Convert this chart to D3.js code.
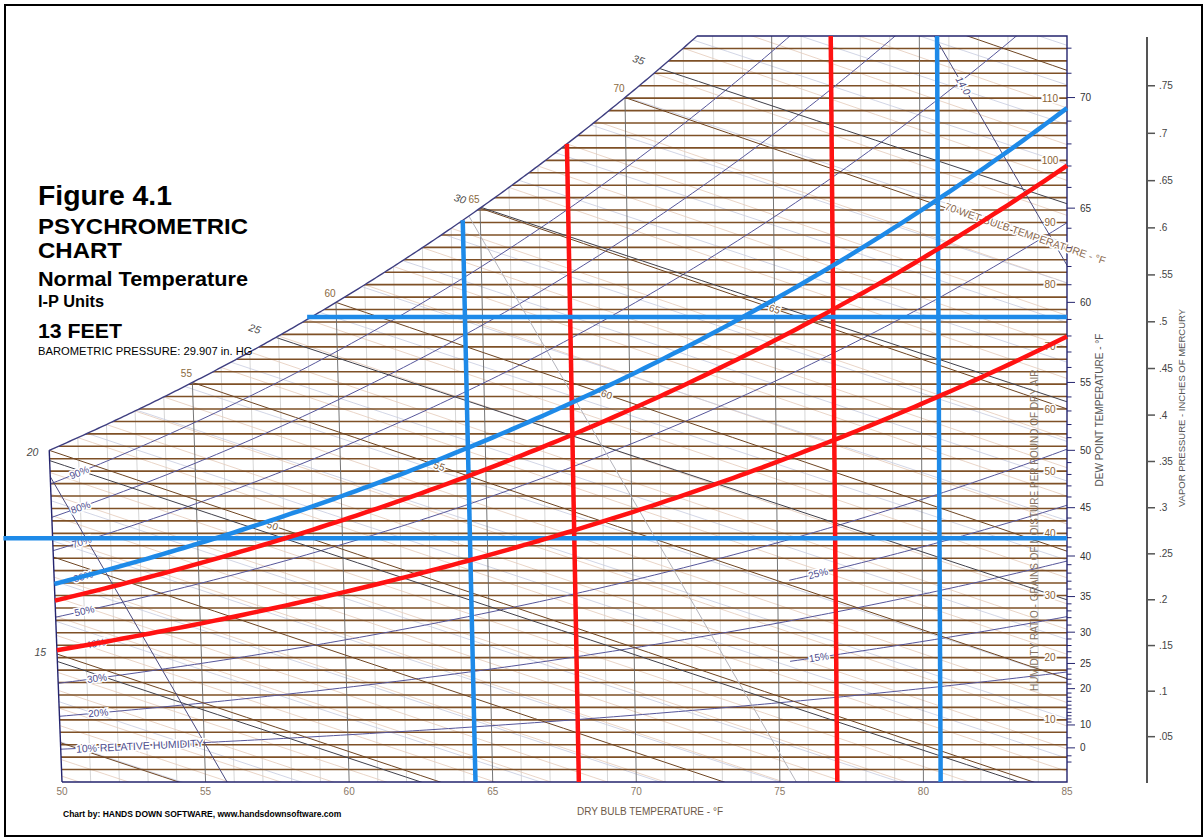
<!DOCTYPE html>
<html>
<head>
<meta charset="utf-8">
<script src="https://cdn.jsdelivr.net/npm/d3@7"></script>
<style>
  body { margin: 0; background: #fff; }
  svg { display: block; font-family: "Liberation Sans", Arial, Helvetica, sans-serif; }
</style>
</head>
<body>
<svg id="chart" width="1204" height="838"></svg>
<script>
// ---------------- chart values ----------------
const baroInHg = 29.907;                                   // barometric pressure, in. Hg (13 ft)
const dryBulbTicks = [50, 55, 60, 65, 70, 75, 80, 85];      // °F
const grainLabels = [10, 20, 30, 40, 50, 60, 70, 80, 90, 100, 110];
const dewPointLabels = [0, 10, 20, 25, 30, 35, 40, 45, 50, 55, 60, 65, 70];
const vaporPressureTicks = [0.05, 0.10, 0.15, 0.20, 0.25, 0.30, 0.35, 0.40, 0.45, 0.50, 0.55, 0.60, 0.65, 0.70, 0.75];
const vaporPressureLabels = [".05", ".1", ".15", ".2", ".25", ".3", ".35", ".4", ".45", ".5", ".55", ".6", ".65", ".7", ".75"];
const rhFull = [10, 20, 30, 40, 50, 60, 70, 80, 90];       // % relative humidity
const rhPartial = [15, 25];
const wetBulbMidLabels = [50, 55, 60, 65];
const wetBulbSatLabels = [55, 60, 65, 70];
const enthalpyLabels = [15, 20, 25, 30, 35];                // Btu/lb dry air
const specificVolumes = [13.0, 13.5, 14.0];                 // ft³/lb dry air
// comfort envelope overlay
const zoneRHRed = [40, 55];
const zoneRHBlue = [60];
const zoneDryBulbRed = [68, 77];
const zoneDryBulbBlue = [64.4, 80.6];
const zoneGrainsBlue = [74.8, 39.2];
const zoneGrainsBlueFrom = [59, 48.3];

// ---------------- psychrometric relations ----------------
const P = baroInHg;
const Ppsia = P * 0.491154;
function pws(tF) {                      // saturation vapour pressure, in. Hg
  const c = (tF - 32) / 1.8;
  const hPa = c >= 0 ? 6.112 * Math.exp(17.62 * c / (243.12 + c))
                     : 6.112 * Math.exp(22.46 * c / (272.62 + c));
  return hPa * 0.0295300;
}
const grainsFromPw = pw => 7000 * 0.62198 * pw / (P - pw);
const satGrains = t => grainsFromPw(pws(t));
const rhGrains = (t, rh) => grainsFromPw(rh / 100 * pws(t));
function wetBulbGrains(t, twb) {
  const ws = satGrains(twb) / 7000;
  return 7000 * ((1093 - 0.556 * twb) * ws - 0.240 * (t - twb)) / (1093 + 0.444 * t - twb);
}
const enthalpyGrains = (t, h) => 7000 * (h - 0.240 * t) / (1061 + 0.444 * t);
const volumeTemp = (v, g) => v * Ppsia / (0.370486 * (1 + 1.607858 * g / 7000)) - 459.67;
function bisect(f, a, b) {
  for (let i = 0; i < 60; i++) { const m = (a + b) / 2; if (f(a) * f(m) <= 0) b = m; else a = m; }
  return (a + b) / 2;
}

// ---------------- scales ----------------
const x = d3.scaleLinear().domain([50, 85]).range([62, 1067]);
const y = d3.scaleLinear().domain([0, 120]).range([782, 36]);
const skew = 0.0011;   // dry-bulb lines lean slightly toward the left
const proj = (t, g) => [x(t) - skew * (85 - t) * (y(0) - y(g)), y(g)];
const line = d3.line();
const span = (a, b, s) => { const r = d3.range(a, b, s); r.push(b); return r; };
const gMax = 120;
const tTop = bisect(t => satGrains(t) - gMax, 60, 85);

const svg = d3.select("#chart");
svg.append("rect").attr("x", 5).attr("y", 5).attr("width", 1197).attr("height", 831)
  .attr("fill", "#fff").attr("stroke", "#000").attr("stroke-width", 2);

// plot region bounded by the saturation curve
const satPts = span(50, tTop, 0.1).map(t => proj(t, satGrains(t)));
const clipPts = [proj(50, 0), proj(85, 0), proj(85, gMax)].concat(satPts.slice().reverse());
svg.append("defs").append("clipPath").attr("id", "plotClip")
  .append("path").attr("d", line(clipPts) + "Z");
const grid = svg.append("g").attr("clip-path", "url(#plotClip)").attr("fill", "none");

function drawSet(data, ptsFn, stroke, width) {
  grid.append("g").selectAll("path").data(data).join("path")
    .attr("d", d => line(ptsFn(d))).attr("stroke", stroke).attr("stroke-width", width);
}
const dbPts = t => [proj(t, 0), proj(t, gMax)];
const wbPts = twb => span(Math.max(49, twb), 86, 0.5).map(t => proj(t, wetBulbGrains(t, twb)));
const hPts = h => span(49, 86, 0.5).map(t => proj(t, enthalpyGrains(t, h)));
const rhPts = (rh, a = 49.5, b = 86) => span(a, b, 0.25).map(t => proj(t, rhGrains(t, rh)));
const vPts = v => span(0, gMax, 2).map(g => proj(volumeTemp(v, g), g));

// minor lines
drawSet(d3.range(51, 85).filter(t => t % 5), dbPts, "#cbcbcb", 0.8);
drawSet(d3.range(33, 76).filter(t => t % 5), wbPts, "#e4cab9", 0.8);
drawSet(d3.range(12, 40).filter(h => h % 5), hPts, "#c6cbdf", 0.8);
// humidity ratio lines every 2 grains
drawSet(d3.range(2, gMax, 2), g => [proj(45, g), proj(85, g)], "#7e5026", 1.6);
// major dry bulb lines
drawSet(dryBulbTicks.slice(1, -1), dbPts, "#666", 0.9);
// relative humidity
drawSet(rhFull, rh => rhPts(rh), "#56569a", 1);
drawSet(rhPartial, rh => rhPts(rh, 75.4, 86), "#56569a", 1);
// major wet bulb and enthalpy
drawSet(d3.range(35, 76, 5), wbPts, "#6e4522", 1);
drawSet(enthalpyLabels, hPts, "#40404a", 1);
// specific volume
drawSet([13.0, 14.0], vPts, "#4a4a7e", 1);
drawSet([13.5], vPts, "#b4b4bc", 1);

// frame: saturation curve, left edge, top, right and bottom edges
const frame = svg.append("g").attr("fill", "none").attr("stroke", "#24246e").attr("stroke-width", 1.4);
frame.append("path").attr("d", line(satPts)).attr("stroke", "#3e3e80");
frame.append("path").attr("d", line([proj(50, 0), proj(50, satGrains(50))]));
frame.append("path").attr("d", line([proj(tTop, gMax), proj(85, gMax), proj(85, 0), proj(50, 0)]));

// ---------------- labels on the chart ----------------
const labels = svg.append("g");
function halo(pos, txt, o = {}) {
  const t = labels.append("text")
    .attr("transform", `translate(${pos[0]},${pos[1]}) rotate(${o.angle || 0})`)
    .attr("text-anchor", o.anchor || "middle").attr("dominant-baseline", "central")
    .attr("font-size", o.size || 10).attr("fill", o.fill || "#000")
    .attr("font-style", o.italic ? "italic" : null)
    .text(txt);
  if (o.halo !== false) t.attr("stroke", "#fff").attr("stroke-width", 3).attr("paint-order", "stroke");
  return t;
}
const angleOf = (fn, t, dt = 0.3) => { const a = fn(t - dt), b = fn(t + dt); return Math.atan2(b[1] - a[1], b[0] - a[0]) * 180 / Math.PI; };

// relative humidity labels
rhFull.forEach(rh => {
  const tl = rh >= 50 ? 51.0 : rh >= 20 ? 51.35 : 52.75;
  const fn = t => proj(t, rhGrains(t, rh));
  halo(fn(tl), rh === 10 ? "10% RELATIVE HUMIDITY" : rh + "%",
       { angle: angleOf(fn, tl), size: rh === 10 ? 10.5 : 10, fill: "#4e4e8e" });
});
rhPartial.forEach(rh => {
  const fn = t => proj(t, rhGrains(t, rh));
  halo(fn(76.4), rh + "%", { angle: angleOf(fn, 76.4), size: 10, fill: "#4e4e8e" });
});

// humidity ratio (grains) labels along the right edge
grainLabels.forEach(g => halo([1050, y(g)], String(g), { size: 10, fill: "#8a6234" }));
labels.append("text")
  .attr("transform", `translate(1034,${y(40.5)}) rotate(-90)`)
  .attr("text-anchor", "middle").attr("dominant-baseline", "central")
  .attr("font-size", 10).attr("fill", "#857362")
  .text("HUMIDITY RATIO - GRAINS OF MOISTURE PER POUND OF DRY AIR");

// wet bulb labels at saturation and along the lines
wetBulbSatLabels.forEach(twb => {
  const p = proj(twb, satGrains(twb));
  halo([p[0] - 6, p[1] - 9], String(twb), { size: 10, fill: "#8a6a40", halo: false });
});
const wbLabelAt = [57.6, 63.4, 69.2, 75.0];
wetBulbMidLabels.forEach((twb, i) => {
  const fn = t => proj(t, wetBulbGrains(t, twb));
  halo(fn(wbLabelAt[i]), String(twb), { angle: angleOf(fn, wbLabelAt[i]), size: 10, fill: "#7a5a3a" });
});
{
  const fn = t => proj(t, wetBulbGrains(t, 70));
  const p = fn(80.85);
  halo([p[0], p[1] - 2], "70 WET BULB TEMPERATURE - °F",
       { angle: angleOf(fn, 82), anchor: "start", size: 10.5, fill: "#8a6a50" });
}

// enthalpy labels
enthalpyLabels.forEach(h => {
  let start, onSat;
  if (enthalpyGrains(50, h) <= satGrains(50)) { start = proj(50, enthalpyGrains(50, h)); onSat = false; }
  else { const t = bisect(t => enthalpyGrains(t, h) - satGrains(t), 50, 85); start = proj(t, satGrains(t)); onSat = true; }
  halo([start[0] - (onSat ? 21 : 17), start[1] - 9], String(h),
       { angle: onSat ? 18 : 0, size: 10.5, italic: true, fill: "#4a4a4a", halo: false });
});

// specific volume label
{
  const fn = g => proj(volumeTemp(14.0, g), g);
  const a = fn(113), b = fn(111);
  halo(fn(112), "14.0", { angle: Math.atan2(b[1] - a[1], b[0] - a[0]) * 180 / Math.PI,
       size: 10, italic: true, fill: "#4a4a80" });
}

// ---------------- axes ----------------
const axes = svg.append("g");
// dry bulb
dryBulbTicks.forEach(t => {
  axes.append("text").attr("x", x(t)).attr("y", 795).attr("text-anchor", "middle")
    .attr("font-size", 10).attr("fill", "#8a7866").text(t);
});
axes.append("text").attr("x", 650).attr("y", 815).attr("text-anchor", "middle")
  .attr("font-size", 10).attr("fill", "#6e5a48").text("DRY BULB TEMPERATURE - °F");

// dew point scale on the right edge
const dewTicks = d3.range(-10, 10, 5).concat(d3.range(10, 73));
dewTicks.forEach(dp => {
  const yy = y(satGrains(dp));
  const major = dewPointLabels.includes(dp);
  axes.append("line").attr("x1", 1067).attr("x2", 1067 + (major ? 8 : 4.5))
    .attr("y1", yy).attr("y2", yy).attr("stroke", "#24246e").attr("stroke-width", 1);
});
dewPointLabels.forEach(dp => {
  axes.append("text").attr("x", 1080).attr("y", y(satGrains(dp))).attr("dominant-baseline", "central")
    .attr("font-size", 10).attr("fill", "#333").text(dp);
});
axes.append("text").attr("transform", "translate(1099,410) rotate(-90)")
  .attr("text-anchor", "middle").attr("dominant-baseline", "central")
  .attr("font-size", 10).attr("fill", "#555").text("DEW POINT TEMPERATURE - °F");

// vapour pressure scale
axes.append("line").attr("x1", 1147).attr("x2", 1147).attr("y1", 37).attr("y2", 783)
  .attr("stroke", "#555").attr("stroke-width", 2);
vaporPressureTicks.forEach((pv, i) => {
  const yy = y(grainsFromPw(pv));
  axes.append("line").attr("x1", 1147).attr("x2", 1155).attr("y1", yy).attr("y2", yy)
    .attr("stroke", "#555").attr("stroke-width", 1.5);
  axes.append("text").attr("x", 1159).attr("y", yy).attr("dominant-baseline", "central")
    .attr("font-size", 10).attr("fill", "#444").text(vaporPressureLabels[i]);
});
axes.append("text").attr("transform", "translate(1181,408) rotate(-90)")
  .attr("text-anchor", "middle").attr("dominant-baseline", "central")
  .attr("font-size", 9.5).attr("fill", "#555").text("VAPOR PRESSURE - INCHES OF MERCURY");

// ---------------- comfort envelope ----------------
const zone = svg.append("g").attr("fill", "none").attr("stroke-width", 4.5);
const RED = "#ff1212", BLUE = "#1e8ae8";
const dbZone = t => [proj(t, 0), proj(t, Math.min(gMax, satGrains(t)))];
zoneDryBulbRed.forEach(t => zone.append("path").attr("d", line(dbZone(t))).attr("stroke", RED));
zoneDryBulbBlue.forEach(t => zone.append("path").attr("d", line(dbZone(t))).attr("stroke", BLUE));
zoneGrainsBlue.forEach((g, i) => zone.append("path")
  .attr("d", line([proj(zoneGrainsBlueFrom[i], g), proj(85, g)])).attr("stroke", BLUE));
zoneRHRed.forEach(rh => zone.append("path").attr("d", line(rhPts(rh, 50, 85))).attr("stroke", RED));
zoneRHBlue.forEach(rh => zone.append("path").attr("d", line(rhPts(rh, 50, 85))).attr("stroke", BLUE));

// ---------------- title block ----------------
const title = svg.append("g").attr("fill", "#000").attr("font-weight", "bold");
[["Figure 4.1", 205, 28, 134], ["PSYCHROMETRIC", 234, 21.5, 210], ["CHART", 258, 21.5, 84],
 ["Normal Temperature", 286, 20, 210], ["I-P Units", 307, 16, 66], ["13 FEET", 338, 20, 84]]
  .forEach(([txt, yy, fs, len]) => title.append("text").attr("x", 38).attr("y", yy)
    .attr("font-size", fs).attr("textLength", len).attr("lengthAdjust", "spacingAndGlyphs").text(txt));
svg.append("text").attr("x", 38).attr("y", 355).attr("font-size", 11.2).attr("fill", "#000")
  .text("BAROMETRIC PRESSURE: 29.907 in. HG");
svg.append("text").attr("x", 63).attr("y", 817).attr("font-size", 8.5).attr("font-weight", "bold")
  .attr("fill", "#000").text("Chart by: HANDS DOWN SOFTWARE, www.handsdownsoftware.com");
</script>
</body>
</html>
